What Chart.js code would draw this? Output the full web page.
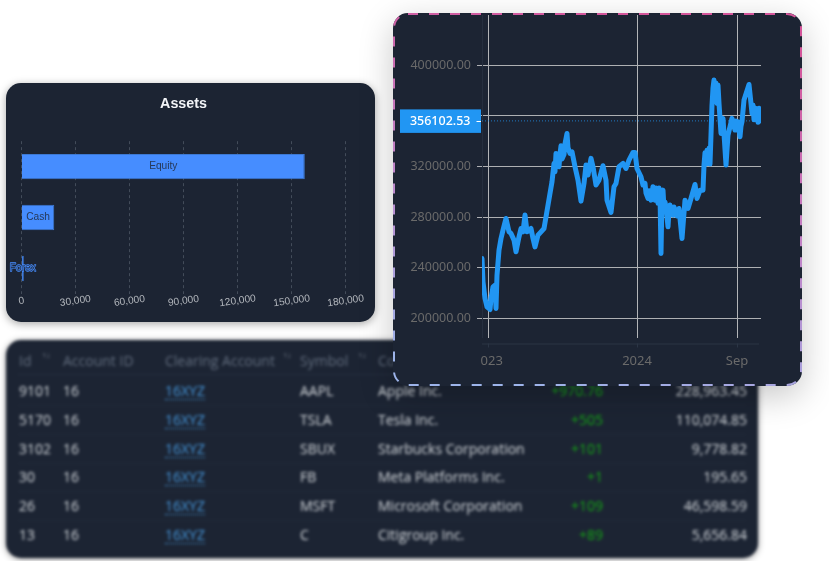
<!DOCTYPE html>
<html>
<head>
<meta charset="utf-8">
<title>Assets</title>
<script src="https://cdn.jsdelivr.net/npm/chart.js@4/dist/chart.umd.js"></script>
<style>
  html, body { margin: 0; padding: 0; background: #fff; }
  body { width: 829px; height: 561px; position: relative; overflow: hidden; }
  .card { position: absolute; background: #1c2433; }
  #assetsCard { left: 6px; top: 83px; width: 369px; height: 239px; border-radius: 15px; box-shadow: 0 2px 9px rgba(0,0,0,.35); z-index: 2; }
  #assetsCard canvas { filter: blur(.35px); }
  #priceCard { left: 393px; top: 13px; width: 409px; height: 373px; border-radius: 15px; box-shadow: 0 10px 34px rgba(0,0,0,.22); z-index: 3; }
  #priceCard svg { position: absolute; left: 0; top: 0; }
  #tableCard { left: 6px; top: 340px; width: 752px; height: 218px; border-radius: 15px; box-shadow: 0 1px 6px rgba(0,0,0,.45); z-index: 1; filter: blur(1.5px); font: 14px "Open Sans", sans-serif; color: #d6dade; }
  #tableCard span { position: absolute; white-space: nowrap; line-height: 20px; }
  #tableCard .rule { position: absolute; left: 12px; right: 12px; height: 1px; background: #252f40; }
  #tableCard .head { color: #626d7e; }
  #tableCard .link { color: #469ae0; border-bottom: 1px dotted #469ae0; line-height: 17px; }
  #tableCard .qty { color: #14a814; }
  #tableCard .sort { font-size: 8px; line-height: 10px; color: #8a94a1; }
  canvas { display: block; }
</style>
</head>
<body>
<div class="card" id="tableCard"></div>
<div class="card" id="assetsCard"><canvas id="assetsChart" width="369" height="239"></canvas></div>
<div class="card" id="priceCard">
  <canvas id="priceChart" width="409" height="373"></canvas>
  <svg width="409" height="373">
    <defs>
      <linearGradient id="dash" x1="0.55" y1="0" x2="0.3" y2="1">
        <stop offset="0" stop-color="#d4559a"/>
        <stop offset="0.5" stop-color="#c184c8"/>
        <stop offset="1" stop-color="#9db4ea"/>
      </linearGradient>
    </defs>
    <rect x="1" y="1" width="407" height="371" rx="14" fill="none" stroke="url(#dash)" stroke-width="2" stroke-dasharray="10 11"/>
  </svg>
</div>

<script>
// Assets bar chart
const assetCategories = ["Equity", "Cash", "Forex"];
const assetValues = [157300, 18300, 1400];
const assetTicks = [0, 30000, 60000, 90000, 120000, 150000, 180000];

// Price line, x is the session number since the start of the visible range
const lineSessions = [
  0, 1, 3, 5, 8, 9, 11, 13, 14, 15, 17, 19, 21, 24, 27, 29, 32, 34, 37, 39, 41, 43, 45, 49, 51, 53, 56, 59, 62, 64, 68, 70,
  72, 73, 74, 75, 77, 78, 79, 80, 82, 83, 85, 86, 88, 90, 93, 96, 99, 102, 104, 106, 109, 111, 114, 117, 121, 124, 125, 129, 132, 134, 137, 141, 144, 147, 151, 153, 155, 159, 161,
  163, 164, 166, 167, 169, 171, 172, 173, 174, 175, 176, 177, 178, 179, 180, 181, 182, 183, 184, 186, 187, 188, 189, 191, 192, 193, 195, 197, 200, 203, 206, 209, 213, 215, 218, 221,
  222, 223, 224, 225, 226, 227, 228, 229, 230, 231, 232, 233, 234, 235, 236, 237, 239, 241, 244, 246, 250,
  253, 254, 255, 256, 257, 258, 259, 260, 262, 267, 269, 270, 271, 272, 273, 274, 275, 276, 277, 278,
];
const lineValues = [
  247400, 229000, 215800, 209200, 207100, 215800, 225000, 226300, 207900, 234200, 254000, 263200, 269800, 279000, 268500, 267200, 261900, 252700, 264500, 271100, 268500, 281700, 268500, 271100, 263200, 256600, 265800, 268500, 271100, 280300, 298800, 308000,
  322500, 316000, 330400, 322000, 319900, 330000, 336500, 326000, 329600, 338000, 346200, 335000, 330400, 331700, 319900, 309300, 292700, 306700, 321200, 313300, 326500, 319900, 305400, 309300, 320700, 309300, 293500, 283800, 304100, 306700, 319900, 322500, 318500, 325100, 331200, 331200, 318500, 312000, 305400,
  306700, 299000, 294800, 301000, 293500, 304100, 296000, 293500, 303000, 301400, 291000, 303000, 298000, 251400, 296000, 301400, 286900, 292000, 288000, 272400, 285000, 289600, 283000, 281700, 288000, 285600, 281000, 286900, 263200, 293500, 286900, 294800, 305900, 294800, 301400, 301400,
  321200, 331000, 322000, 333000, 323000, 334400, 322000, 345000, 368600, 382000, 388400, 372000, 386000, 369900, 384400, 369900, 346200, 358100, 321200, 344900, 358100,
  348900, 356000, 349000, 355400, 350000, 343600, 352000, 355400, 372600, 384900, 369900, 362000, 368600, 357000, 358100, 366000, 364700, 355000, 366000, 356100,
];
const lastPrice = 356102.53;
const priceTicks = [200000, 240000, 280000, 320000, 360000, 400000];
const timeTickSessions = [6, 155, 255];
const timeTickLabels = ["\u2007023", "2024", "Sep"];

// Table rows
const tableHeaders = ["Id", "Account ID", "Clearing Account", "Symbol", "Company"];
const rowIds = ["9101", "5170", "3102", "30", "26", "13"];
const rowAccounts = ["16", "16", "16", "16", "16", "16"];
const rowClearing = ["16XYZ", "16XYZ", "16XYZ", "16XYZ", "16XYZ", "16XYZ"];
const rowSymbols = ["AAPL", "TSLA", "SBUX", "FB", "MSFT", "C"];
const rowCompanies = ["Apple Inc.", "Tesla Inc.", "Starbucks Corporation", "Meta Platforms Inc.", "Microsoft Corporation", "Citigroup Inc."];
const rowQuantities = ["+970.76", "+505", "+101", "+1", "+109", "+89"];
const rowValues = ["228,963.45", "110,074.85", "9,778.82", "195.65", "46,598.59", "5,656.84"];

Chart.defaults.animation = false;
Chart.defaults.responsive = false;

// Build the blurred table behind the charts
function buildTable() {
  const el = document.getElementById("tableCard");
  const add = (cls, text, left, top, right) => {
    const s = document.createElement("span");
    s.className = cls;
    s.textContent = text;
    s.style.top = top + "px";
    if (right !== undefined) s.style.right = right + "px";
    else s.style.left = left + "px";
    el.appendChild(s);
  };
  const colX = [13, 57, 159, 294, 372];
  tableHeaders.forEach((h, i) => add("head", h, colX[i], 11));
  [[36, "\u2191\u2193"], [277, "\u2191\u2193"], [352, "\u2191\u2193"]].forEach(([x, t]) => add("sort", t, x, 10));
  const rule = document.createElement("div");
  rule.className = "rule";
  rule.style.top = "34px";
  el.appendChild(rule);
  rowIds.forEach((id, i) => {
    const top = 41 + i * 28.8;
    add("", id, colX[0], top);
    add("", rowAccounts[i], colX[1], top);
    add("link", rowClearing[i], colX[2], top + 1);
    add("", rowSymbols[i], colX[3], top);
    add("", rowCompanies[i], colX[4], top);
    add("qty", rowQuantities[i], 0, top, 155);
    add("", rowValues[i], 0, top, 11);
    if (i < rowIds.length - 1) {
      const r = document.createElement("div");
      r.className = "rule";
      r.style.top = top + 24 + "px";
      r.style.opacity = 0.5;
      el.appendChild(r);
    }
  });
}
buildTable();

// Centered bar labels and slightly tilted value ticks
const assetLabels = {
  id: "assetLabels",
  afterDatasetsDraw(chart) {
    const { ctx } = chart;
    const bars = chart.getDatasetMeta(0).data;
    ctx.save();
    ctx.font = '10.2px "Liberation Sans", sans-serif';
    ctx.textAlign = "center";
    ctx.textBaseline = "middle";
    ctx.lineJoin = "round";
    bars.forEach((bar, i) => {
      const x = (bar.base + bar.x) / 2;
      ctx.lineWidth = 1.3;
      ctx.strokeStyle = "#468dff";
      ctx.strokeText(assetCategories[i], x, bar.y);
      ctx.fillStyle = "#26395a";
      ctx.fillText(assetCategories[i], x, bar.y);
    });
    const scale = chart.scales.x;
    ctx.fillStyle = "#b4b8be";
    scale.ticks.forEach((t) => {
      ctx.save();
      ctx.translate(scale.getPixelForValue(t.value), chart.chartArea.bottom + 7);
      ctx.rotate(-8 * Math.PI / 180);
      ctx.fillText(t.value.toLocaleString("en-US"), 0, 0);
      ctx.restore();
    });
    ctx.restore();
  },
};

new Chart(document.getElementById("assetsChart"), {
  type: "bar",
  data: {
    labels: assetCategories,
    datasets: [{
      data: assetValues,
      backgroundColor: "#468dff",
      borderColor: "#3c78d2",
      borderWidth: 1,
      barPercentage: 0.5,
      categoryPercentage: 1,
    }],
  },
  options: {
    indexAxis: "y",
    layout: { padding: { left: 15.3, right: 29.3 } },
    plugins: {
      legend: { display: false },
      tooltip: { enabled: false },
      title: {
        display: true,
        text: "Assets",
        color: "#f2f4f7",
        font: { family: '"Liberation Sans", sans-serif', size: 14.3, weight: "bold" },
        padding: { top: 12, bottom: 29 },
      },
    },
    scales: {
      x: {
        min: 0,
        max: 180000,
        afterBuildTicks: (s) => { s.ticks = assetTicks.map((value) => ({ value })); },
        afterFit: (s) => { s.height = 28; },
        ticks: { display: false },
        border: { display: false, dash: [3, 3] },
        grid: { color: "#434c5a", drawTicks: false, tickBorderDash: [3, 3] },
      },
      y: {
        afterFit: (s) => { s.width = 0; },
        ticks: { display: false },
        border: { display: false },
        grid: { display: false },
      },
    },
  },
  plugins: [assetLabels],
});

// Faint time axis under the plot and the last price tag on the value axis
const priceOverlay = {
  id: "priceOverlay",
  afterDraw(chart) {
    const { ctx, chartArea } = chart;
    const axisY = chartArea.bottom + 6;
    ctx.save();
    ctx.strokeStyle = "#2b3545";
    ctx.lineWidth = 1;
    ctx.beginPath();
    ctx.moveTo(chartArea.left, axisY + 0.5);
    ctx.lineTo(chartArea.right - 2, axisY + 0.5);
    chart.scales.x.ticks.forEach((t) => {
      const x = Math.round(chart.scales.x.getPixelForValue(t.value)) + 0.5;
      ctx.moveTo(x, axisY);
      ctx.lineTo(x, axisY + 4);
    });
    ctx.stroke();

    const y = chart.scales.y.getPixelForValue(lastPrice);
    ctx.fillStyle = "#2196f3";
    ctx.fillRect(7, y - 11.5, 81, 23.5);
    ctx.fillStyle = "#fff";
    ctx.font = '500 12.5px "Noto Sans", sans-serif';
    ctx.textAlign = "right";
    ctx.textBaseline = "middle";
    ctx.fillText(lastPrice.toFixed(2), 77.5, y + 0.5);
    ctx.fillRect(83.5, Math.round(y), 4.5, 1);
    ctx.restore();
  },
};

const dropLabelPadding = (s) => {
  s.paddingTop = 0;
  s.paddingBottom = 0;
  s.paddingLeft = 0;
  s.paddingRight = 0;
};

new Chart(document.getElementById("priceChart"), {
  type: "line",
  data: {
    datasets: [
      {
        data: lineSessions.map((x, i) => ({ x, y: lineValues[i] })),
        borderColor: "#2196f3",
        borderWidth: 5,
        borderJoinStyle: "round",
        borderCapStyle: "round",
        pointRadius: 0,
        tension: 0,
      },
      {
        data: [{ x: 0, y: lastPrice }, { x: 279, y: lastPrice }],
        borderColor: "rgba(33,150,243,.75)",
        borderWidth: 1,
        borderDash: [1, 2],
        pointRadius: 0,
      },
    ],
  },
  options: {
    layout: { padding: { top: 2, right: 41, bottom: 0 } },
    plugins: { legend: { display: false }, tooltip: { enabled: false } },
    scales: {
      x: {
        type: "linear",
        min: 0,
        max: 279,
        afterBuildTicks: (s) => { s.ticks = timeTickSessions.map((value) => ({ value })); },
        afterFit: (s) => { s.height = 373 - 324.5; dropLabelPadding(s); },
        afterTickToLabelConversion: (s) => {
          s.ticks.forEach((t, i) => { t.label = timeTickLabels[i]; });
        },
        ticks: { color: "#6a6a6a", padding: 16, maxRotation: 0, autoSkip: false, font: { family: '"Noto Sans", sans-serif', size: 13 } },
        border: { display: false },
        grid: { color: "#b3b5b8", drawTicks: false },
      },
      y: {
        min: 184980,
        max: 439760,
        afterBuildTicks: (s) => { s.ticks = priceTicks.map((value) => ({ value })); },
        afterFit: (s) => { s.width = 89; dropLabelPadding(s); },
        ticks: {
          color: "#6a6a6a",
          padding: 6,
          font: { family: '"Noto Sans", sans-serif', size: 12.5 },
          callback: (v) => v.toFixed(2),
        },
        border: { color: "#252e3e" },
        grid: { color: "#aeb0b3", tickLength: 5, tickColor: "#aeb0b3" },
      },
    },
  },
  plugins: [priceOverlay],
});
</script>
</body>
</html>
